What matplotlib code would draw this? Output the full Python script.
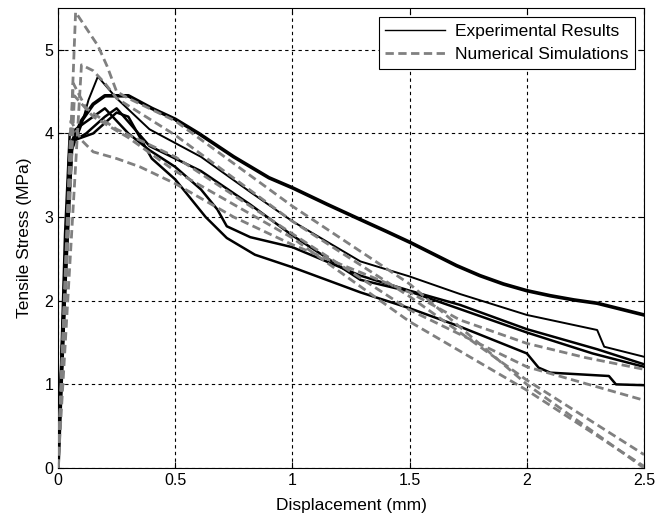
import numpy as np
import matplotlib
matplotlib.use('Agg')
from matplotlib import pyplot as plt

plt.rcParams['font.family'] = ['Liberation Sans', 'DejaVu Sans']

# Experimental results (black solid)
exp_x = [
    [0, 0.02, 0.04, 0.06, 0.1, 0.15, 0.2, 0.3, 0.4, 0.5, 0.6, 0.75, 0.9, 1.0, 1.15, 1.29, 1.4, 1.5,
     1.6, 1.7, 1.8, 1.9, 2.0, 2.1, 2.2, 2.3, 2.4, 2.5],
    [0, 0.03, 0.06, 0.1, 0.13, 0.17, 0.25, 0.39, 0.61, 0.82, 1.0, 1.29, 1.5, 1.715, 2.0, 2.3, 2.33, 2.5],
    [0, 0.03, 0.06, 0.12, 0.2, 0.25, 0.39, 0.5, 0.61, 0.82, 1.0, 1.29, 1.5, 1.715, 2.0, 2.28, 2.5],
    [0, 0.03, 0.05, 0.15, 0.25, 0.3, 0.4, 0.5, 0.63, 0.72, 0.84, 1.0, 1.29, 1.5, 1.715, 2.0, 2.05,
     2.1, 2.35, 2.38, 2.5],
    [0, 0.03, 0.05, 0.15, 0.2, 0.3, 0.39, 0.5, 0.61, 0.68, 0.72, 0.82, 1.0, 1.29, 1.5, 1.715, 2.0,
     2.3, 2.5],
]
exp_y = [
    [0, 1.5, 3.0, 3.9, 4.15, 4.35, 4.45, 4.45, 4.3, 4.17, 4.0, 3.72, 3.47, 3.35, 3.15, 2.97, 2.83, 2.7,
     2.56, 2.42, 2.3, 2.2, 2.12, 2.06, 2.01, 1.97, 1.9, 1.83],
    [0, 2.0, 3.8, 4.1, 4.4, 4.68, 4.42, 4.05, 3.72, 3.3, 2.95, 2.47, 2.29, 2.08, 1.83, 1.65, 1.45, 1.33],
    [0, 2.2, 3.9, 4.0, 4.2, 4.3, 3.85, 3.7, 3.55, 3.15, 2.78, 2.25, 2.11, 1.9, 1.62, 1.37, 1.21],
    [0, 2.5, 3.9, 4.0, 4.25, 4.2, 3.7, 3.45, 3.0, 2.75, 2.55, 2.4, 2.1, 1.91, 1.69, 1.37, 1.2,
     1.14, 1.1, 1.0, 0.99],
    [0, 2.8, 4.0, 4.2, 4.3, 4.0, 3.8, 3.6, 3.33, 3.09, 2.89, 2.76, 2.64, 2.3, 2.12, 1.95, 1.66,
     1.42, 1.24],
]
exp_lw = [2.6, 1.4, 1.8, 1.8, 1.8]

# Numerical simulations (grey dashed)
num_x = [
    [0, 0.075, 0.17, 0.21, 0.25, 0.3, 0.5, 1.0, 1.5, 2.0, 2.5],
    [0, 0.1, 0.15, 0.2, 0.25, 0.5, 1.0, 1.5, 2.0, 2.5],
    [0, 0.065, 0.12, 0.25, 0.5, 1.0, 1.5, 2.0, 2.5],
    [0, 0.055, 0.1, 0.15, 0.25, 0.35, 0.5, 0.75, 1.0, 1.5, 1.715, 2.0, 2.25, 2.5],
    [0, 0.07, 0.15, 0.3, 0.5, 1.0, 1.5, 2.0, 2.5],
]
num_y = [
    [0, 5.45, 5.05, 4.8, 4.5, 4.42, 4.15, 3.13, 2.2, 1.0, 0.0],
    [0, 4.82, 4.75, 4.6, 4.42, 3.98, 2.95, 2.05, 1.05, 0.16],
    [0, 4.6, 4.3, 4.05, 3.72, 2.8, 1.89, 1.21, 0.81],
    [0, 4.15, 3.92, 3.78, 3.7, 3.6, 3.4, 3.0, 2.67, 2.1, 1.77, 1.49, 1.32, 1.18],
    [0, 4.45, 4.2, 3.95, 3.55, 2.75, 1.75, 0.93, 0.02],
]

fig = plt.figure(figsize=(6.57, 5.21), dpi=100)
ax = fig.add_axes([0.0883, 0.1017, 0.892, 0.883])

for i in range(len(exp_x)):
    ax.plot(exp_x[i], exp_y[i], color='black', lw=exp_lw[i], zorder=3)
for i in range(len(num_x)):
    ax.plot(num_x[i], num_y[i], color='#808080', lw=2.0, ls=(0, (3, 1.6)), zorder=4)

ax.set_xlim(0, 2.5)
ax.set_ylim(0, 5.5)
ax.set_xticks([0, 0.5, 1, 1.5, 2, 2.5])
ax.set_xticklabels(['0', '0.5', '1', '1.5', '2', '2.5'])
ax.set_yticks([0, 1, 2, 3, 4, 5])
ax.tick_params(direction='in', top=True, right=True, labelsize=11.5, length=4, width=0.8)
ax.grid(True, color='black', ls=(0, (3, 3)), lw=0.8)
ax.set_axisbelow(True)
ax.set_xlabel('Displacement (mm)', fontsize=12.5, labelpad=7)
ax.set_ylabel('Tensile Stress (MPa)', fontsize=12.5, labelpad=9)

leg_handles = [plt.Line2D([], [], color='black', lw=1.0),
               plt.Line2D([], [], color='#808080', lw=2.0, ls=(0, (3, 1.6)))]
leg = ax.legend(leg_handles, ['Experimental Results', 'Numerical Simulations'],
                loc='upper right', fontsize=12.5, fancybox=False, framealpha=1,
                edgecolor='black', borderaxespad=0.5, handlelength=3.4,
                borderpad=0.4, labelspacing=0.45, handletextpad=0.6)
leg.get_frame().set_linewidth(0.8)

fig.savefig('out.png', dpi=100)
